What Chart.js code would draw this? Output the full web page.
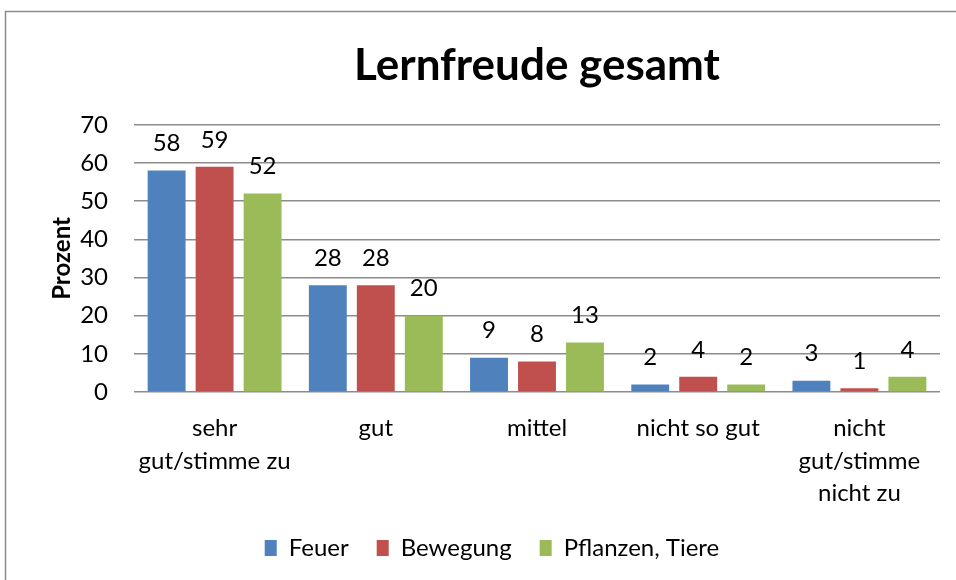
<!DOCTYPE html>
<html lang="de">
<head>
<meta charset="utf-8">
<title>Lernfreude gesamt</title>
<script src="https://cdn.jsdelivr.net/npm/chart.js@4"></script>
<style>
  html, body { margin: 0; padding: 0; background: #fff; }
  #wrap { width: 956px; height: 580px; position: relative; }
</style>
</head>
<body>
<div id="wrap"><canvas id="lernChart"></canvas></div>
<script>
const categories = [
    ['sehr', 'gut/stimme zu'],
    'gut',
    'mittel',
    'nicht so gut',
    ['nicht', 'gut/stimme', 'nicht zu']
];
const feuer = [58, 28, 9, 2, 3];
const bewegung = [59, 28, 8, 4, 1];
const pflanzenTiere = [52, 20, 13, 2, 4];
const yTicks = [0, 10, 20, 30, 40, 50, 60, 70];

const FONT = 'Lato, "Open Sans", sans-serif';

// Werte über die Balken schreiben
const valueLabels = {
    id: 'valueLabels',
    afterDatasetsDraw(chart) {
        const ctx = chart.ctx;
        ctx.save();
        ctx.font = '24px ' + FONT;
        ctx.fillStyle = '#000';
        ctx.textAlign = 'center';
        ctx.textBaseline = 'middle';
        chart.data.datasets.forEach((ds, i) => {
            chart.getDatasetMeta(i).data.forEach((bar, j) => {
                ctx.fillText(String(ds.data[j]), bar.x, bar.y - 27);
            });
        });
        ctx.restore();
    }
};

// Rahmen links und oben, Legende etwas nach rechts
const frame = {
    id: 'frame',
    afterLayout(chart) {
        chart.legend.left += 12;
        chart.legend.right += 12;
    },
    beforeDraw(chart) {
        const ctx = chart.ctx;
        ctx.save();
        ctx.strokeStyle = '#8c8c8c';
        ctx.lineWidth = 1.5;
        ctx.beginPath();
        ctx.moveTo(5.5, chart.height);
        ctx.lineTo(5.5, 11.5);
        ctx.lineTo(chart.width, 11.5);
        ctx.stroke();
        ctx.restore();
    }
};

const ctx = document.getElementById('lernChart').getContext('2d');
const chart = new Chart(ctx, {
    type: 'bar',
    data: {
        labels: categories,
        datasets: [
            { label: 'Feuer', data: feuer, backgroundColor: '#4f81bd' },
            { label: 'Bewegung', data: bewegung, backgroundColor: '#c0504d' },
            { label: 'Pflanzen, Tiere', data: pflanzenTiere, backgroundColor: '#9bbb59' }
        ]
    },
    options: {
        responsive: true,
        maintainAspectRatio: false,
        animation: false,
        devicePixelRatio: 1,
        categoryPercentage: 0.893,
        barPercentage: 0.79,
        layout: { padding: { top: 33, right: 16, bottom: 10, left: 20 } },
        plugins: {
            title: {
                display: true,
                text: 'Lernfreude gesamt',
                fullSize: false,
                color: '#000',
                font: { family: FONT, size: 44, weight: 'bold' },
                padding: { top: 6, bottom: 33 }
            },
            legend: {
                position: 'bottom',
                labels: {
                    color: '#000',
                    font: { family: FONT, size: 24 },
                    boxWidth: 12,
                    boxHeight: 16,
                    padding: 28
                }
            },
            tooltip: { enabled: false }
        },
        scales: {
            x: {
                grid: { display: false },
                border: { display: false },
                afterFit(axis) {
                    axis.height -= 14;
                },
                ticks: {
                    color: '#000',
                    maxRotation: 0,
                    autoSkip: false,
                    padding: 12,
                    font: { family: FONT, size: 24, lineHeight: 1.36 }
                }
            },
            y: {
                min: 0,
                max: 70,
                afterBuildTicks(axis) {
                    axis.ticks = yTicks.map(v => ({ value: v }));
                },
                afterFit(axis) {
                    axis.width = 114;
                },
                grid: { color: '#8c8c8c', lineWidth: 1.5, drawTicks: false },
                border: { display: false },
                ticks: {
                    color: '#000',
                    padding: 26,
                    font: { family: FONT, size: 24 }
                },
                title: {
                    display: true,
                    text: 'Prozent',
                    color: '#000',
                    font: { family: FONT, size: 24, weight: 'bold' },
                    padding: { top: 28, bottom: 0 }
                }
            }
        }
    },
    plugins: [frame, valueLabels]
});
</script>
</body>
</html>
